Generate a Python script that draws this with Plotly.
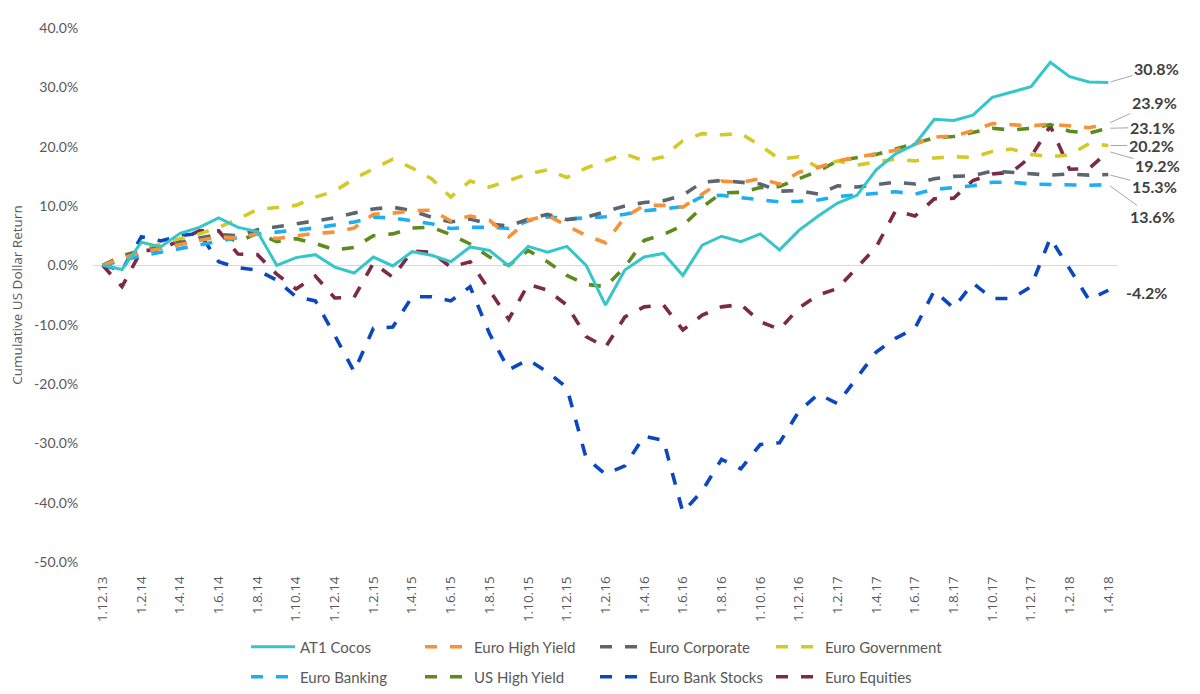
import plotly.graph_objects as go

months = ["1.12.13", "1.1.14", "1.2.14", "1.3.14", "1.4.14", "1.5.14", "1.6.14", "1.7.14", "1.8.14", "1.9.14",
          "1.10.14", "1.11.14", "1.12.14", "1.1.15", "1.2.15", "1.3.15", "1.4.15", "1.5.15", "1.6.15", "1.7.15",
          "1.8.15", "1.9.15", "1.10.15", "1.11.15", "1.12.15", "1.1.16", "1.2.16", "1.3.16", "1.4.16", "1.5.16",
          "1.6.16", "1.7.16", "1.8.16", "1.9.16", "1.10.16", "1.11.16", "1.12.16", "1.1.17", "1.2.17", "1.3.17",
          "1.4.17", "1.5.17", "1.6.17", "1.7.17", "1.8.17", "1.9.17", "1.10.17", "1.11.17", "1.12.17", "1.1.18",
          "1.2.18", "1.3.18", "1.4.18"]

tick_labels = ["1.12.13", "1.2.14", "1.4.14", "1.6.14", "1.8.14", "1.10.14", "1.12.14", "1.2.15", "1.4.15",
               "1.6.15", "1.8.15", "1.10.15", "1.12.15", "1.2.16", "1.4.16", "1.6.16", "1.8.16", "1.10.16",
               "1.12.16", "1.2.17", "1.4.17", "1.6.17", "1.8.17", "1.10.17", "1.12.17", "1.2.18", "1.4.18"]

y_ticks = [40, 30, 20, 10, 0, -10, -20, -30, -40, -50]

at1_cocos = [0, -0.7, 3.9, 3.1, 5.4, 6.4, 8.0, 6.4, 5.7, 0.0, 1.3, 1.8, -0.3, -1.3, 1.4, -0.1, 2.3, 1.7, 0.6, 3.1,
             2.5, -0.1, 3.2, 2.2, 3.2, 0.0, -6.7, -0.8, 1.4, 2.0, -1.7, 3.4, 4.9, 4.0, 5.3, 2.6, 5.9, 8.3, 10.5, 11.8,
             16.1, 18.8, 20.4, 24.6, 24.4, 25.3, 28.3, 29.2, 30.1, 34.2, 31.8, 30.9, 30.8]
euro_high_yield = [0, 1.2, 2.2, 2.8, 3.5, 4.2, 4.8, 4.6, 5.3, 4.5, 5.0, 5.4, 5.6, 6.3, 8.6, 8.8, 9.2, 9.3, 7.5, 8.3,
                   7.6, 4.8, 7.6, 8.4, 6.7, 5.0, 3.8, 8.1, 10.1, 10.1, 9.8, 12.0, 14.2, 14.0, 14.6, 13.7, 15.7, 16.5,
                   17.6, 18.2, 18.8, 19.4, 20.4, 21.6, 21.8, 22.7, 23.9, 23.7, 23.5, 23.8, 23.5, 23.2, 23.9]
euro_corporate = [0, 1.5, 2.5, 3.0, 3.8, 4.6, 5.2, 5.0, 6.0, 6.5, 7.0, 7.6, 8.0, 8.8, 9.5, 9.8, 9.2, 8.1, 7.3, 7.8,
                  7.0, 6.6, 7.8, 8.6, 7.7, 8.1, 9.0, 10.0, 10.6, 10.9, 11.8, 14.0, 14.3, 14.0, 13.7, 12.5, 12.6, 12.0,
                  13.4, 13.2, 13.6, 14.0, 13.7, 14.6, 15.0, 15.1, 15.9, 15.7, 15.5, 15.2, 15.4, 15.2, 15.3]
euro_government = [0, 1.7, 2.5, 3.6, 4.5, 5.3, 6.4, 7.8, 9.4, 9.8, 10.1, 11.5, 12.5, 14.6, 16.2, 17.9, 16.4, 14.6,
                   11.5, 14.2, 13.2, 14.3, 15.4, 16.1, 14.8, 16.4, 17.6, 18.8, 17.6, 18.3, 21.0, 22.2, 22.0, 22.2,
                   20.2, 17.9, 18.3, 16.5, 17.6, 16.9, 17.4, 17.9, 17.6, 18.1, 18.3, 18.2, 19.2, 19.6, 18.7, 18.3,
                   18.6, 20.5, 20.2]
euro_banking = [0, 0.8, 1.6, 2.2, 2.8, 3.4, 4.0, 4.6, 5.3, 5.6, 5.9, 6.3, 6.8, 7.3, 8.1, 8.0, 7.5, 7.0, 6.2, 6.4,
                6.4, 6.2, 7.5, 8.2, 7.8, 8.0, 8.2, 8.6, 9.2, 9.5, 9.9, 11.6, 11.8, 11.4, 11.0, 10.7, 10.8, 11.0, 11.6,
                11.9, 12.1, 12.4, 12.0, 12.8, 13.1, 13.4, 14.0, 14.0, 13.7, 13.6, 13.5, 13.5, 13.6]
us_high_yield = [0, 1.0, 2.0, 3.0, 3.6, 4.2, 5.2, 4.0, 5.4, 4.0, 4.5, 3.7, 2.6, 3.0, 5.0, 5.3, 6.3, 6.4, 5.2, 3.6,
                 1.4, 0.0, 2.5, 0.6, -1.7, -3.2, -3.6, -0.3, 4.2, 5.2, 6.7, 9.8, 12.2, 12.3, 13.1, 13.3, 14.6, 15.9,
                 17.6, 18.1, 18.7, 19.6, 20.6, 21.5, 21.7, 22.4, 23.1, 22.8, 23.1, 23.7, 22.6, 22.3, 23.1]
euro_bank_stocks = [0, -0.8, 4.8, 4.1, 5.0, 5.4, 0.6, -0.4, -0.8, -2.5, -5.3, -6.0, -11.8, -17.9, -10.6, -10.4, -5.3,
                    -5.3, -6.0, -3.6, -11.5, -17.6, -15.9, -18.0, -20.6, -32.5, -35.2, -33.8, -28.8, -29.5, -41.6,
                    -38.0, -32.7, -34.3, -30.2, -29.9, -24.6, -21.7, -23.3, -18.9, -14.6, -12.3, -10.6, -4.3, -7.2,
                    -3.0, -5.6, -5.6, -3.6, 4.6, -0.5, -5.8, -4.2]
euro_equities = [0, -3.6, 2.5, 2.6, 4.3, 5.8, 5.8, 1.9, 1.8, -1.5, -4.0, -1.8, -5.5, -5.4, 0.4, -2.0, 2.4, 2.2, -0.3,
                 0.6, -4.2, -9.1, -3.2, -4.2, -6.7, -12.0, -13.8, -8.7, -7.0, -6.7, -10.9, -8.4, -7.0, -6.6, -9.5,
                 -10.8, -7.2, -5.0, -3.9, -0.3, 3.1, 9.2, 8.3, 11.2, 11.3, 14.3, 15.4, 15.7, 18.3, 23.5, 16.2, 16.3,
                 19.2]

series_names = ["AT1 Cocos", "Euro High Yield", "Euro Corporate", "Euro Government",
                "Euro Banking", "US High Yield", "Euro Bank Stocks", "Euro Equities"]
series_values = [at1_cocos, euro_high_yield, euro_corporate, euro_government,
                 euro_banking, us_high_yield, euro_bank_stocks, euro_equities]
end_labels = ["30.8%", "23.9%", "15.3%", "20.2%", "13.6%", "23.1%", "-4.2%", "19.2%"]

colors = ["#35C6CA", "#F79239", "#5B6670", "#D4C92B", "#1DAFEF", "#5D8B1D", "#0B47C1", "#7C2A48"]
dashes = ["solid"] + ["12px,13px"] * 7
widths = [3] + [3.6] * 7

# label offsets (pixels) of end labels relative to the last point
label_offsets = [(48, -14), (46, -21), (46, 12), (43, 0), (44, 32), (44, -1), (38, 2), (49, 14)]
show_leader = [True, True, True, True, True, True, False, True]

# legend slot positions (container pixels)
legend_cols = [246, 420, 595, 771]
legend_rows = [647, 677]

draw_order = [7, 6, 5, 4, 3, 2, 1, 0]

fig = go.Figure()
for k in range(8):
    leg = "legend" if k == 0 else f"legend{k + 1}"
    fig.add_trace(go.Scatter(
        x=months, y=series_values[k], name=series_names[k], mode="lines",
        line=dict(color=colors[k], width=widths[k], dash=dashes[k]),
        legend=leg, hoverinfo="skip",
    ))

fig.data = tuple(fig.data[i] for i in draw_order)

layout_legends = {}
for k in range(8):
    key = "legend" if k == 0 else f"legend{k + 1}"
    col = k % 4
    row = k // 4
    layout_legends[key] = dict(
        xref="container", yref="container",
        x=legend_cols[col] / 1200, y=(694 - legend_rows[row]) / 694,
        xanchor="left", yanchor="middle", orientation="h",
        bgcolor="rgba(0,0,0,0)", borderwidth=0,
        font=dict(family="Lato", size=15, color="#595959"),
        itemwidth=44,
    )

annotations = []
for k in range(8):
    ax, ay = label_offsets[k]
    annotations.append(dict(
        x=months[-1], y=series_values[k][-1], xref="x", yref="y",
        text=end_labels[k], showarrow=show_leader[k], arrowhead=0, arrowwidth=1,
        arrowcolor="#A6A6A6", ax=ax, ay=ay, standoff=2,
        xshift=0 if show_leader[k] else ax, yshift=0 if show_leader[k] else -ay,
        font=dict(family="Lato", size=16, color="#404040", weight="bold"),
    ))

fig.update_layout(
    width=1200, height=694,
    margin=dict(l=93, r=82, t=28, b=132, autoexpand=False),
    paper_bgcolor="white", plot_bgcolor="white",
    showlegend=True,
    annotations=annotations,
    xaxis=dict(
        type="category", range=[-0.5, 52.5], automargin=False,
        tickmode="array", tickvals=tick_labels, ticktext=tick_labels,
        tickangle=-90, showgrid=False, showline=False, zeroline=False,
        ticks="outside", ticklen=8, tickcolor="rgba(0,0,0,0)",
        tickfont=dict(family="Open Sans", size=13.5, color="#595959"),
    ),
    yaxis=dict(
        range=[-50, 40], tickmode="array", tickvals=y_ticks, automargin=False,
        ticktext=[f"{v:.1f}%" for v in y_ticks],
        showgrid=False, showline=False,
        zeroline=True, zerolinecolor="#D9D9D9", zerolinewidth=1,
        ticks="outside", ticklen=11, tickcolor="rgba(0,0,0,0)",
        tickfont=dict(family="Lato", size=14, color="#595959"),
        title=dict(text="Cumulative US Dollar Return", standoff=8,
                   font=dict(family="Open Sans", size=13.5, color="#595959")),
    ),
    **layout_legends,
)

fig.write_html(
    "out.html",
    config={"displayModeBar": False},
    post_script="document.body.style.margin='0';document.body.style.overflow='hidden';",
)
